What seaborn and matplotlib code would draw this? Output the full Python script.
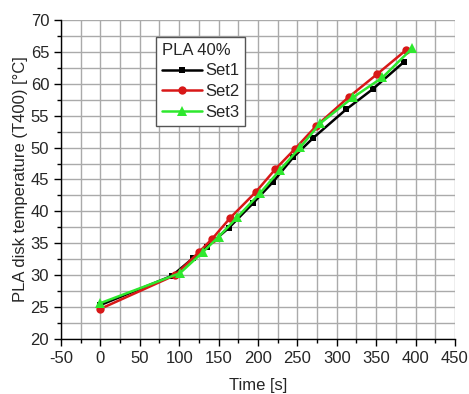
import matplotlib
matplotlib.use("Agg")
import matplotlib.pyplot as plt
from matplotlib.ticker import MultipleLocator
import seaborn as sns
import pandas as pd

set1_x = [0, 91, 118, 135, 163, 194, 219, 245, 270, 312, 346, 385]
set1_y = [25.3, 29.9, 32.7, 34.4, 37.4, 41.3, 44.6, 48.5, 51.5, 56.0, 59.2, 63.4]
set2_x = [0, 95, 125, 142, 165, 197, 222, 247, 274, 315, 351, 388]
set2_y = [24.7, 30.0, 33.6, 35.7, 39.0, 43.0, 46.6, 49.8, 53.4, 57.9, 61.5, 65.3]
set3_x = [0, 101, 130, 150, 174, 203, 228, 254, 279, 321, 358, 396]
set3_y = [25.6, 30.3, 33.6, 36.0, 39.1, 42.9, 46.5, 50.1, 53.8, 57.9, 61.0, 65.6]
series_names = ["Set1", "Set2", "Set3"]

rows = []
for name, xs, ys in zip(series_names, [set1_x, set2_x, set3_x], [set1_y, set2_y, set3_y]):
    for xv, yv in zip(xs, ys):
        rows.append({"Time": xv, "Temp": yv, "Series": name})
df = pd.DataFrame(rows)

sns.set_style("white")
plt.rcParams['font.family'] = ['Liberation Sans', 'DejaVu Sans']
plt.rcParams['axes.unicode_minus'] = False

fig = plt.figure(figsize=(4.69, 3.94), dpi=100)
ax = fig.add_axes([0.130, 0.140, 0.840, 0.809])

palette = {"Set1": "#000000", "Set2": "#d81818", "Set3": "#2ee82e"}
markers = {"Set1": "s", "Set2": "o", "Set3": "^"}
sizes_m = {"Set1": 5, "Set2": 6, "Set3": 7}
for name in series_names:
    sub = df[df["Series"] == name]
    sns.lineplot(data=sub, x="Time", y="Temp", color=palette[name], marker=markers[name],
                 markersize=sizes_m[name], markeredgewidth=0, linewidth=1.8, sort=False,
                 label=name, ax=ax, zorder=3)

ax.set_xlim(-50, 450)
ax.set_ylim(20, 70)
ax.xaxis.set_major_locator(MultipleLocator(50))
ax.xaxis.set_minor_locator(MultipleLocator(25))
ax.yaxis.set_major_locator(MultipleLocator(5))
ax.yaxis.set_minor_locator(MultipleLocator(2.5))
ax.grid(True, which="both", color="#aaaaaa", linewidth=1.0)
ax.set_axisbelow(True)
ax.tick_params(which="major", direction="out", length=5, width=1, labelsize=12, color="black",
               bottom=True, left=True)
ax.tick_params(which="minor", direction="out", length=3, width=1, color="black", bottom=True, left=True)
for s in ["top", "right"]:
    ax.spines[s].set_visible(False)
for s in ["left", "bottom"]:
    ax.spines[s].set_color("black")
    ax.spines[s].set_linewidth(1)

ax.set_xlabel("Time [s]", fontsize=12, labelpad=9)
ax.set_ylabel("PLA disk temperature (T400) [\u00b0C]", fontsize=12, labelpad=2)

leg = ax.legend(title="PLA 40%", loc="upper left", bbox_to_anchor=(0.241, 0.948),
                fontsize=12, title_fontsize=12, frameon=True, fancybox=False,
                handlelength=2.4, borderpad=0.35, labelspacing=0.35, handletextpad=0.2,
                borderaxespad=0)
leg._legend_box.align = "left"
leg.get_frame().set_edgecolor("#555555")
leg.get_frame().set_linewidth(1)
leg.get_frame().set_alpha(1)

fig.savefig("out.png", dpi=100)
